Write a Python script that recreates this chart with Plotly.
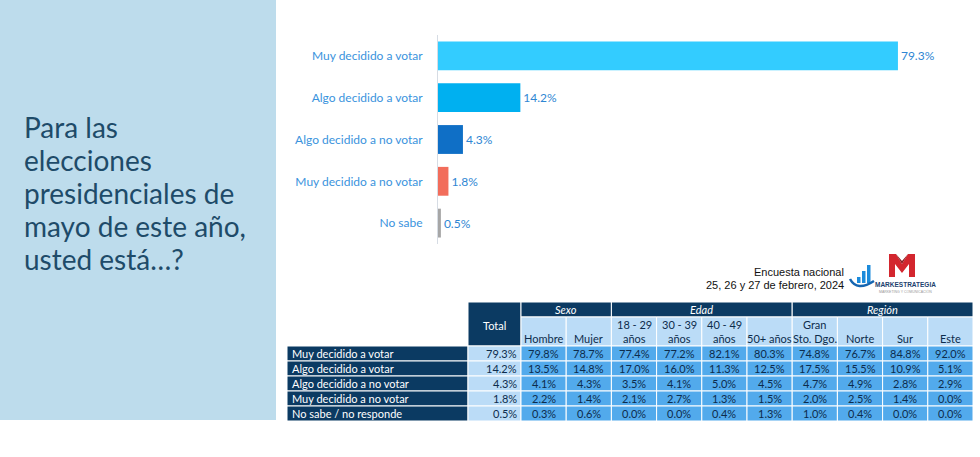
import plotly.graph_objects as go

# ---------------- data ----------------
bar_categories = ["Muy decidido a votar", "Algo decidido a votar", "Algo decidido a no votar",
                  "Muy decidido a no votar", "No sabe"]
bar_values = [79.3, 14.2, 4.3, 1.8, 0.5]

row_labels = ["Muy decidido a votar", "Algo decidido a votar", "Algo decidido a no votar",
              "Muy decidido a no votar", "No sabe / no responde"]
total_values = [79.3, 14.2, 4.3, 1.8, 0.5]

group_names = ["Sexo", "Edad", "Región"]
group_sizes = [2, 4, 4]

column_labels = ["Hombre", "Mujer", "18 - 29<br>años", "30 - 39<br>años", "40 - 49<br>años",
                 "50+ años", "Gran<br>Sto. Dgo.", "Norte", "Sur", "Este"]
hombre = [79.8, 13.5, 4.1, 2.2, 0.3]
mujer = [78.7, 14.8, 4.3, 1.4, 0.6]
edad_18_29 = [77.4, 17.0, 3.5, 2.1, 0.0]
edad_30_39 = [77.2, 16.0, 4.1, 2.7, 0.0]
edad_40_49 = [82.1, 11.3, 5.0, 1.3, 0.4]
edad_50_mas = [80.3, 12.5, 4.5, 1.5, 1.3]
gran_sto_dgo = [74.8, 17.5, 4.7, 2.0, 1.0]
norte = [76.7, 15.5, 4.9, 2.5, 0.4]
sur = [84.8, 10.9, 2.8, 1.4, 0.0]
este = [92.0, 5.1, 2.9, 0.0, 0.0]
column_values = [hombre, mujer, edad_18_29, edad_30_39, edad_40_49, edad_50_mas,
                 gran_sto_dgo, norte, sur, este]

question_lines = ["Para las", "elecciones", "presidenciales de", "mayo de este año,", "usted está…?"]
source_lines = ["Encuesta nacional", "25, 26 y 27 de febrero, 2024"]

# ---------------- style ----------------
W, H = 980, 457
FONT = "Lato"
NAVY = "#0B3A62"
LIGHT = "#BBDCF7"
MID = "#52AAEC"
CELL_TXT = "#0D2C4C"
bar_colors = ["#33CCFF", "#00B0F0", "#0F6FC6", "#F26D5B", "#A6A6A6"]


def px(x):
    return x / W


def py(y):
    return 1 - y / H


fig = go.Figure()

fig.add_trace(go.Bar(
    y=bar_categories, x=bar_values, orientation="h",
    marker=dict(color=bar_colors, line=dict(width=0)),
    text=[f"{v:.1f}%" for v in bar_values], textposition="outside",
    textfont=dict(family=FONT, size=12, color="#2F86D3"),
    cliponaxis=False, hoverinfo="skip", showlegend=False,
))

shapes = []
annotations = []

# left panel
shapes.append(dict(type="rect", xref="paper", yref="paper", x0=0, x1=px(276), y0=py(420), y1=1,
                   fillcolor="#BDDCEC", line=dict(width=0), layer="below"))
q_y0, q_step = 127, 33
for i, line in enumerate(question_lines):
    annotations.append(dict(xref="paper", yref="paper", x=px(22), y=py(q_y0 + i * q_step),
                            xanchor="left", yanchor="middle", showarrow=False, text=line,
                            font=dict(family=FONT, size=28, color="#1E4B69")))

# ---------------- table ----------------
label_x0, label_w, total_w, col_w = 287, 181, 53, 45.2
top, grp_h, sub_h, row_h = 302, 15, 29, 15
sub_top = top + grp_h
data_top = sub_top + sub_h
total_x0 = label_x0 + label_w
cols_x0 = total_x0 + total_w
cell_line = dict(color="white", width=1)
tfont = 11


def rect(x0, x1, y0, y1, color):
    shapes.append(dict(type="rect", xref="paper", yref="paper", x0=px(x0), x1=px(x1),
                       y0=py(y1), y1=py(y0), fillcolor=color, line=cell_line, layer="above"))


def text(x, y, s, color, anchor="center", size=tfont, family=FONT):
    annotations.append(dict(xref="paper", yref="paper", x=px(x), y=py(y), xanchor=anchor,
                            yanchor="middle", showarrow=False, text=s,
                            font=dict(family=family, size=size, color=color)))


# Total header
rect(total_x0, cols_x0, top, data_top, NAVY)
text(total_x0 + total_w / 2, top + (grp_h + sub_h) / 2 + 1, "Total", "white")

# group headers
start = 0
for name, n in zip(group_names, group_sizes):
    x0 = cols_x0 + start * col_w
    x1 = x0 + n * col_w
    rect(x0, x1, top, sub_top, NAVY)
    text((x0 + x1) / 2, top + grp_h / 2, f"<i>{name}</i>", "white")
    start += n

# sub headers
for j, lab in enumerate(column_labels):
    x0 = cols_x0 + j * col_w
    rect(x0, x0 + col_w, sub_top, data_top, LIGHT)
    parts = lab.split("<br>")
    for k, p in enumerate(reversed(parts)):
        text(x0 + col_w / 2, data_top - 7.5 - k * 14, p, CELL_TXT)

# data rows
for i, lab in enumerate(row_labels):
    y0 = data_top + i * row_h
    y1 = y0 + row_h
    ym = (y0 + y1) / 2
    rect(label_x0, total_x0, y0, y1, NAVY)
    text(label_x0 + 3, ym, lab, "white", anchor="left")
    rect(total_x0, cols_x0, y0, y1, LIGHT)
    text(cols_x0 - 2, ym, f"{total_values[i]:.1f}%", CELL_TXT, anchor="right")
    for j, vals in enumerate(column_values):
        x0 = cols_x0 + j * col_w
        rect(x0, x0 + col_w, y0, y1, MID)
        text(x0 + col_w / 2, ym, f"{vals[i]:.1f}%", CELL_TXT)

# ---------------- source + logo ----------------
for i, s in enumerate(source_lines):
    text(846, 272 + i * 13, s, "#111111", anchor="right", size=11, family="Liberation Sans")

# red M
m_pts = [(889, 277), (889, 254), (896, 254), (902, 264), (908, 254), (915, 254), (915, 277),
         (909, 277), (909, 264), (902, 273), (895, 264), (895, 277)]
path = "M " + " L ".join(f"{px(x):.5f},{py(y):.5f}" for x, y in m_pts) + " Z"
shapes.append(dict(type="path", xref="paper", yref="paper", path=path,
                   fillcolor="#D3262E", line=dict(width=0)))
m_in = [(896, 254), (902, 264), (908, 254), (902, 261)]
path2 = "M " + " L ".join(f"{px(x):.5f},{py(y):.5f}" for x, y in m_in) + " Z"
shapes.append(dict(type="path", xref="paper", yref="paper", path=path2,
                   fillcolor="#8E1A1F", line=dict(width=0)))

# blue icon
for bx, bt in [(857, 277), (862, 271), (867, 265)]:
    shapes.append(dict(type="rect", xref="paper", yref="paper", x0=px(bx), x1=px(bx + 3.5),
                       y0=py(283), y1=py(bt), fillcolor="#1C8BDB", line=dict(width=0)))
swoosh = f"M {px(850):.5f},{py(279):.5f} Q {px(857):.5f},{py(292):.5f} {px(874):.5f},{py(281):.5f}"
shapes.append(dict(type="path", xref="paper", yref="paper", path=swoosh,
                   line=dict(color="#1565B0", width=2.5)))

text(905, 284, "<b>MARKESTRATEGIA</b>", "#1D3F6E", size=6.5, family="Liberation Sans")
text(905, 291, "MARKETING Y COMUNICACIÓN", "#9A9A9A", size=3.5, family="Liberation Sans")

# ---------------- layout ----------------
scale = 5.8  # px per percentage point
x_dom0, x_dom1 = 438, 940
fig.update_layout(
    width=W, height=H, margin=dict(l=0, r=0, t=0, b=0),
    paper_bgcolor="white", plot_bgcolor="rgba(0,0,0,0)",
    bargap=0.31,
    xaxis=dict(domain=[px(x_dom0), px(x_dom1)], range=[0, (x_dom1 - x_dom0) / scale],
               visible=False, fixedrange=True),
    yaxis=dict(domain=[py(244), py(35)], autorange="reversed", showline=True,
               linecolor="#D6DCE4", linewidth=1, showgrid=False, zeroline=False,
               ticks="", ticklabelstandoff=12,
               tickfont=dict(family=FONT, size=12, color="#3A93DD"), fixedrange=True),
    shapes=shapes, annotations=annotations,
    font=dict(family=FONT),
)

fig.write_html("out.html", config={"displayModeBar": False},
               post_script="document.body.style.margin='0';document.body.style.padding='0';"
                           "document.body.style.overflow='hidden';")
